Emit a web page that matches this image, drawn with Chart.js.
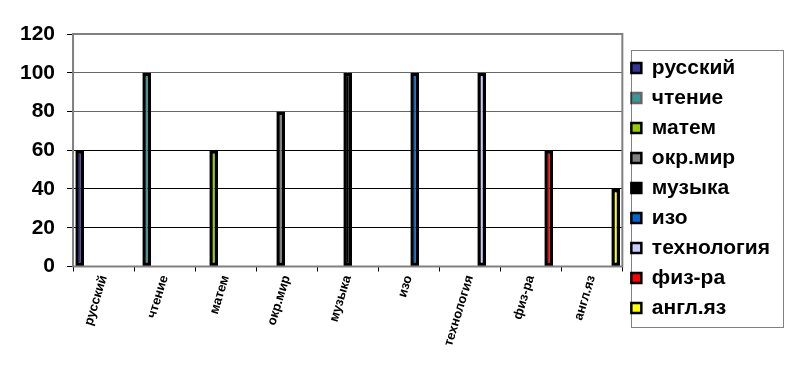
<!DOCTYPE html>
<html>
<head>
<meta charset="utf-8">
<script src="https://cdn.jsdelivr.net/npm/chart.js@4"></script>
<style>
    html, body { margin: 0; padding: 0; background: #fff; }
    #wrap { width: 793px; height: 378px; }
</style>
</head>
<body>
<div id="wrap"><canvas id="chart" width="793" height="378"></canvas></div>
<script>
// ==============================
// DATA
// ==============================

const categories = ['русский', 'чтение', 'матем', 'окр.мир', 'музыка', 'изо', 'технология', 'физ-ра', 'англ.яз'];
const seriesNames = ['русский', 'чтение', 'матем', 'окр.мир', 'музыка', 'изо', 'технология', 'физ-ра', 'англ.яз'];
const seriesValues = [60, 100, 60, 80, 100, 100, 100, 60, 40];
const seriesColors = ['#333399', '#339999', '#99CC00', '#808080', '#000000', '#0066CC', '#CCCCFF', '#FF0000', '#FFFF00'];
const yTicks = [0, 20, 40, 60, 80, 100, 120];

const FONT = '"Liberation Sans", Arial, sans-serif';

// each series only has a value in its own category
const datasets = seriesNames.map((name, i) => ({
    label: name,
    data: categories.map((c, j) => j === i ? seriesValues[i] : null),
    backgroundColor: seriesColors[i],
    borderColor: '#000',
    borderWidth: 3.5,
    borderSkipped: false
}));

// ==============================
// PLUGINS
// ==============================

// gray frame round the plot area
const plotFrame = {
    id: 'plotFrame',
    afterDatasetsDraw(chart) {
        const { ctx, chartArea: a } = chart;
        ctx.save();
        ctx.strokeStyle = '#808080';
        ctx.lineWidth = 2;
        ctx.strokeRect(a.left, a.top, a.right - a.left, a.bottom - a.top);
        ctx.restore();
    }
};

// move the legend up a bit, like the original
const legendShift = {
    id: 'legendShift',
    afterLayout(chart) {
        const lg = chart.legend;
        if (!lg) return;
        lg.top -= 4;
        lg.bottom -= 4;
    }
};

// dotted box round the legend items
const legendFrame = {
    id: 'legendFrame',
    afterDraw(chart) {
        const lg = chart.legend;
        if (!lg || !lg.legendHitBoxes.length) return;
        const boxes = lg.legendHitBoxes;
        const top = Math.min(...boxes.map(b => b.top)) - 8;
        const bottom = Math.max(...boxes.map(b => b.top + b.height)) + 8;
        const left = Math.min(...boxes.map(b => b.left));
        const right = lg.right + 3;
        const ctx = chart.ctx;
        ctx.save();
        ctx.strokeStyle = '#000';
        ctx.lineWidth = 1;
        ctx.setLineDash([1, 1]);
        ctx.strokeRect(Math.round(left) + 0.5, Math.round(top) + 0.5, Math.round(right - left), Math.round(bottom - top));
        ctx.restore();
    }
};

// ==============================
// CHART
// ==============================

new Chart(document.getElementById('chart'), {
    type: 'bar',
    data: { labels: categories, datasets },
    plugins: [plotFrame, legendShift, legendFrame],
    options: {
        responsive: false,
        animation: false,
        layout: { padding: { top: 34, left: 8, right: 13, bottom: 28 } },
        datasets: {
            bar: { categoryPercentage: 0.88, barPercentage: 1.45 }
        },
        plugins: {
            tooltip: { enabled: false },
            legend: {
                position: 'right',
                labels: {
                    color: '#000',
                    font: { family: FONT, size: 21, weight: 'bold' },
                    boxWidth: 10,
                    boxHeight: 10,
                    padding: 9,
                    generateLabels: chart => chart.data.datasets.map((ds, i) => ({
                        text: ds.label,
                        fillStyle: ds.backgroundColor,
                        strokeStyle: i === 1 ? '#666' : '#000',
                        lineWidth: 2.5,
                        datasetIndex: i
                    }))
                }
            }
        },
        scales: {
            x: {
                grid: { display: true, drawOnChartArea: false, offset: true, tickLength: 5, color: '#000' },
                border: { display: false },
                ticks: {
                    color: '#000',
                    autoSkip: false,
                    minRotation: 73,
                    maxRotation: 73,
                    padding: 2,
                    font: { family: FONT, size: 13, weight: 'bold' }
                }
            },
            y: {
                min: 0,
                max: 120,
                afterBuildTicks: axis => { axis.ticks = yTicks.map(v => ({ value: v })); },
                grid: {
                    color: c => (c.tick && c.tick.value >= 80) ? '#666' : '#000',
                    lineWidth: 1,
                    tickLength: 6,
                    tickColor: '#000'
                },
                border: { display: false },
                ticks: {
                    color: '#000',
                    padding: 12,
                    font: { family: FONT, size: 21, weight: 'bold' }
                }
            }
        }
    }
});
</script>
</body>
</html>
